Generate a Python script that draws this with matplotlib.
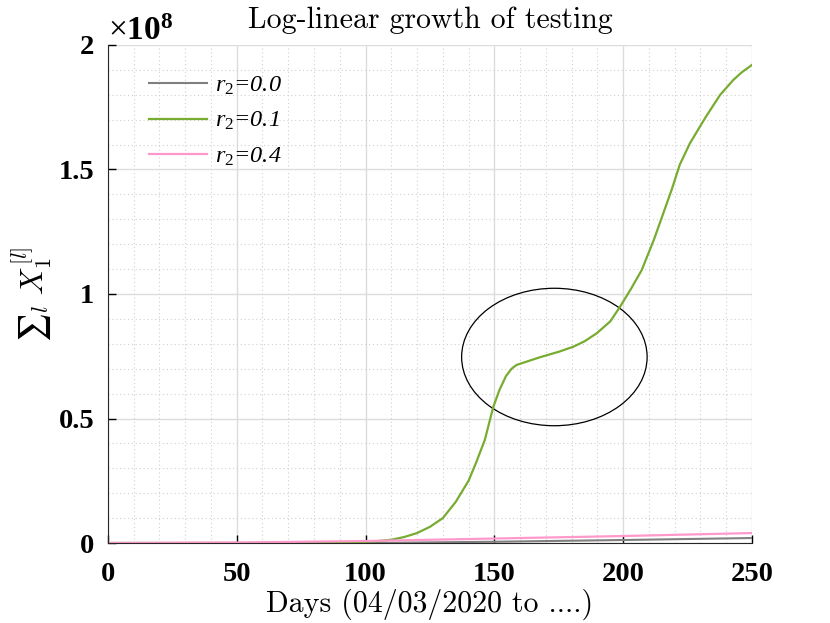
import numpy as np
import matplotlib.pyplot as plt
from matplotlib.patches import Ellipse
from matplotlib.ticker import MultipleLocator, FuncFormatter

# values in units of 1e8
days_g = [0, 50, 90, 100, 105, 110, 115, 120, 125, 130, 135, 140, 143, 146.3, 149.6,
          152, 154.5, 156.7, 158.6, 163, 167.7, 175, 180.6, 185, 189.7, 195, 198.8, 203,
          207.2, 212, 218.8, 222, 225.9, 232, 237.6, 242.7, 246, 250]
r01 = [0, 0, 0.002, 0.005, 0.008, 0.013, 0.024, 0.04, 0.065, 0.10, 0.165, 0.25, 0.325,
       0.414, 0.547, 0.615, 0.67, 0.70, 0.715, 0.73, 0.746, 0.768, 0.788, 0.81, 0.842,
       0.89, 0.949, 1.02, 1.096, 1.22, 1.418, 1.52, 1.605, 1.71, 1.799, 1.859, 1.89, 1.92]

days_l = [0, 50, 100, 150, 200, 250]
r00 = [0, 0, 0.0, 0.005, 0.012, 0.02]
r04 = [0, 0.002, 0.008, 0.018, 0.028, 0.04]

plt.rcParams['mathtext.fontset'] = 'custom'
plt.rcParams['mathtext.it'] = 'Liberation Serif:italic'
plt.rcParams['mathtext.rm'] = 'Liberation Serif'
plt.rcParams['mathtext.bf'] = 'Liberation Serif:bold'

fig = plt.figure(figsize=(8.3, 6.23), dpi=100)
ax = fig.add_axes([0.130, 0.1284, 0.776, 0.7994])

ax.plot(days_l, r00, color='#808080', lw=1.5, label=r'$r_2$=0.0')
ax.plot(days_g, r01, color='#77ac30', lw=1.6, label=r'$r_2$=0.1')
ax.plot(days_l, r04, color='#ff99cc', lw=1.6, label=r'$r_2$=0.4')

ax.add_patch(Ellipse((173.3, 0.747), 72.0, 0.552, fill=False, edgecolor='black', lw=0.9))

ax.set_xlim(0, 250)
ax.set_ylim(0, 2)
ax.xaxis.set_major_locator(MultipleLocator(50))
ax.xaxis.set_minor_locator(MultipleLocator(10))
ax.yaxis.set_major_locator(MultipleLocator(0.5))
ax.yaxis.set_minor_locator(MultipleLocator(0.1))
ax.yaxis.set_major_formatter(FuncFormatter(lambda v, p: '%g' % v))
ax.grid(which='major', color='#dcdcdc', lw=1.0, ls='-')
ax.grid(which='minor', color='#d0d0d0', lw=0.8, ls=(0, (1, 2.5)))
ax.set_axisbelow(True)
ax.tick_params(which='major', direction='in', length=6, width=1, top=False, right=False)
ax.tick_params(axis='x', pad=14)
ax.tick_params(axis='y', pad=10)
ax.tick_params(which='minor', length=0)
for lab in ax.get_xticklabels() + ax.get_yticklabels():
    lab.set_family('Liberation Serif')
    lab.set_weight('bold')
    lab.set_fontsize(20.5)
ax.spines['top'].set_visible(False)
ax.spines['right'].set_visible(False)
ax.spines['left'].set_color('#262626')
ax.spines['bottom'].set_color('#262626')

ax.set_title('Log-linear growth of testing', family='cmr10', fontsize=21.5, pad=12)
ax.set_xlabel('Days (04/03/2020 to ....)', family='cmr10', fontsize=21.5, labelpad=1)
ax.set_ylabel(r'$∑_l\ X_1^{[l]}$', fontsize=22.5, math_fontfamily='cm', labelpad=4)
ax.text(0.0, 0.995, r'$\times\mathbf{10^8}$', transform=ax.transAxes, fontsize=24,
        va='bottom', ha='left')

leg = ax.legend(loc='upper left', frameon=False, handlelength=2.4, handletextpad=0.3,
                bbox_to_anchor=(0.03, 0.985), labelspacing=0.55,
                prop={'family': 'Liberation Serif', 'style': 'italic', 'size': 17.5})

fig.savefig('out.png', dpi=100)
